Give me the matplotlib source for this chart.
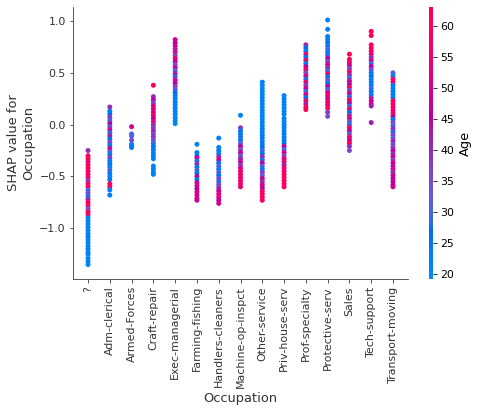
import numpy as np
import matplotlib
matplotlib.use("Agg")
import matplotlib.pyplot as plt
from matplotlib.colors import LinearSegmentedColormap

# (SHAP value, Age), column by column
unknown = [(-0.25, 40), (-0.30, 58), (-0.33, 62), (-0.36, 55), (-0.39, 60), (-0.42, 62),
           (-0.45, 57), (-0.48, 61), (-0.51, 56), (-0.54, 38), (-0.57, 60), (-0.60, 62),
           (-0.63, 30), (-0.66, 35), (-0.69, 28), (-0.72, 40), (-0.75, 60), (-0.78, 62),
           (-0.81, 34), (-0.84, 61), (-0.87, 58), (-0.90, 22), (-0.93, 21), (-0.96, 23),
           (-0.99, 20), (-1.02, 22), (-1.05, 21), (-1.08, 24), (-1.11, 20), (-1.14, 22),
           (-1.17, 21), (-1.20, 23), (-1.23, 20), (-1.25, 22), (-1.29, 21), (-1.32, 22),
           (-1.35, 20)]
adm_clerical = [(0.17, 40), (0.13, 25), (0.10, 27), (0.07, 38), (0.04, 30), (0.01, 45),
                (-0.02, 34), (-0.05, 48), (-0.08, 28), (-0.11, 42), (-0.14, 26), (-0.17, 36),
                (-0.20, 24), (-0.23, 50), (-0.26, 32), (-0.29, 25), (-0.32, 38), (-0.35, 23),
                (-0.38, 26), (-0.41, 22), (-0.44, 30), (-0.47, 24), (-0.50, 22), (-0.53, 25),
                (-0.57, 60), (-0.60, 62), (-0.63, 24), (-0.68, 23)]
armed_forces = [(-0.02, 50), (-0.09, 30), (-0.11, 30), (-0.15, 36), (-0.19, 24),
                (-0.21, 24), (-0.22, 24)]
craft_repair = [(0.38, 62), (0.27, 40), (0.24, 45), (0.21, 35), (0.18, 50), (0.15, 55),
                (0.12, 48), (0.09, 58), (0.06, 45), (0.03, 55), (0.00, 40), (-0.03, 38),
                (-0.06, 42), (-0.09, 36), (-0.12, 40), (-0.15, 34), (-0.18, 30), (-0.21, 26),
                (-0.24, 24), (-0.27, 22), (-0.30, 23), (-0.33, 22), (-0.40, 22), (-0.43, 23),
                (-0.46, 22), (-0.48, 21)]
exec_managerial = [(0.82, 48), (0.79, 45), (0.76, 50), (0.73, 42), (0.70, 52), (0.67, 38),
                   (0.64, 55), (0.61, 45), (0.58, 35), (0.55, 48), (0.52, 30), (0.49, 42),
                   (0.46, 28), (0.43, 52), (0.40, 45), (0.37, 38), (0.34, 32), (0.31, 27),
                   (0.28, 24), (0.25, 22), (0.22, 23), (0.19, 21), (0.16, 22), (0.13, 23),
                   (0.10, 21), (0.07, 22), (0.04, 21), (0.01, 22)]
farming_fishing = [(-0.19, 22), (-0.27, 24), (-0.30, 25), (-0.32, 50), (-0.35, 28),
                   (-0.38, 40), (-0.41, 25), (-0.44, 30), (-0.47, 26), (-0.50, 45),
                   (-0.53, 24), (-0.56, 48), (-0.59, 52), (-0.62, 45), (-0.65, 50),
                   (-0.68, 47), (-0.71, 52), (-0.73, 48)]
handlers_cleaners = [(-0.13, 22), (-0.22, 22), (-0.25, 24), (-0.28, 22), (-0.31, 40),
                     (-0.34, 48), (-0.37, 26), (-0.40, 30), (-0.43, 24), (-0.46, 32),
                     (-0.49, 26), (-0.52, 36), (-0.55, 28), (-0.58, 34), (-0.61, 40),
                     (-0.64, 48), (-0.67, 52), (-0.70, 55), (-0.73, 45), (-0.76, 50)]
machine_op_inspct = [(0.09, 22), (-0.03, 38), (-0.06, 26), (-0.09, 24), (-0.12, 28),
                     (-0.15, 24), (-0.18, 32), (-0.21, 45), (-0.24, 36), (-0.27, 48),
                     (-0.30, 32), (-0.33, 42), (-0.36, 50), (-0.39, 38), (-0.42, 52),
                     (-0.45, 56), (-0.48, 60), (-0.51, 55), (-0.54, 60), (-0.57, 58),
                     (-0.60, 55)]
other_service = [(0.41, 22), (0.38, 21), (0.35, 22), (0.32, 20), (0.29, 21), (0.26, 22),
                 (0.23, 21), (0.20, 23), (0.17, 21), (0.14, 22), (0.11, 20), (0.08, 22),
                 (0.05, 21), (0.02, 23), (-0.01, 22), (-0.04, 24), (-0.07, 21), (-0.10, 23),
                 (-0.13, 25), (-0.16, 22), (-0.19, 24), (-0.22, 26), (-0.25, 30), (-0.28, 26),
                 (-0.31, 40), (-0.34, 28), (-0.37, 45), (-0.40, 32), (-0.43, 24), (-0.46, 38),
                 (-0.49, 34), (-0.52, 48), (-0.55, 40), (-0.58, 52), (-0.61, 45), (-0.64, 58),
                 (-0.67, 60), (-0.70, 62), (-0.73, 58)]
priv_house_serv = [(0.28, 22), (0.25, 21), (0.22, 22), (0.19, 21), (0.16, 22), (0.13, 21),
                   (0.10, 22), (0.06, 23), (0.03, 21), (0.00, 22), (-0.03, 23), (-0.06, 22),
                   (-0.09, 24), (-0.12, 23), (-0.15, 25), (-0.18, 26), (-0.21, 45), (-0.24, 30),
                   (-0.27, 50), (-0.30, 36), (-0.33, 55), (-0.36, 58), (-0.39, 42), (-0.42, 60),
                   (-0.45, 55), (-0.48, 62), (-0.51, 58), (-0.54, 60), (-0.57, 62), (-0.60, 58)]
prof_specialty = [(0.77, 40), (0.74, 26), (0.71, 24), (0.68, 55), (0.65, 26), (0.62, 60),
                  (0.59, 24), (0.56, 45), (0.53, 60), (0.50, 35), (0.47, 50), (0.44, 28),
                  (0.41, 55), (0.38, 38), (0.35, 48), (0.32, 30), (0.29, 52), (0.26, 26),
                  (0.23, 58), (0.20, 42), (0.17, 60), (0.145, 62)]
protective_serv = [(1.01, 22), (0.92, 22), (0.85, 24), (0.82, 22), (0.79, 26), (0.76, 23),
                   (0.73, 30), (0.70, 24), (0.67, 28), (0.64, 45), (0.61, 36), (0.58, 52),
                   (0.55, 40), (0.52, 30), (0.49, 56), (0.46, 26), (0.43, 34), (0.40, 24),
                   (0.37, 45), (0.34, 30), (0.31, 52), (0.28, 58), (0.25, 48), (0.22, 60),
                   (0.19, 55), (0.16, 60), (0.12, 38), (0.08, 35)]
sales = [(0.68, 62), (0.63, 60), (0.60, 58), (0.57, 50), (0.54, 36), (0.51, 55), (0.48, 40),
         (0.45, 30), (0.42, 48), (0.39, 45), (0.36, 58), (0.33, 35), (0.30, 50), (0.27, 28),
         (0.24, 62), (0.21, 45), (0.18, 30), (0.15, 55), (0.12, 26), (0.09, 40), (0.06, 52),
         (0.03, 34), (0.00, 28), (-0.03, 60), (-0.06, 45), (-0.09, 32), (-0.12, 58),
         (-0.15, 48), (-0.18, 62), (-0.21, 40), (-0.25, 36)]
tech_support = [(0.90, 62), (0.86, 62), (0.77, 60), (0.74, 58), (0.71, 62), (0.68, 55),
                (0.65, 40), (0.62, 50), (0.59, 30), (0.56, 45), (0.53, 35), (0.50, 24),
                (0.47, 26), (0.44, 22), (0.41, 24), (0.38, 22), (0.35, 30), (0.32, 24),
                (0.29, 22), (0.26, 40), (0.23, 48), (0.20, 50), (0.18, 42), (0.02, 42)]
transport_moving = [(0.50, 30), (0.47, 22), (0.44, 58), (0.41, 60), (0.38, 22), (0.35, 22),
                    (0.32, 24), (0.29, 22), (0.26, 24), (0.23, 60), (0.20, 58), (0.17, 62),
                    (0.14, 55), (0.11, 60), (0.08, 45), (0.05, 26), (0.02, 35), (-0.01, 30),
                    (-0.04, 40), (-0.07, 28), (-0.10, 36), (-0.13, 32), (-0.16, 42),
                    (-0.19, 34), (-0.22, 38), (-0.25, 45), (-0.28, 40), (-0.31, 48),
                    (-0.34, 38), (-0.37, 50), (-0.40, 44), (-0.43, 52), (-0.46, 40),
                    (-0.49, 48), (-0.52, 45), (-0.55, 50), (-0.58, 46), (-0.60, 48)]

categories = ["?", "Adm-clerical", "Armed-Forces", "Craft-repair", "Exec-managerial",
              "Farming-fishing", "Handlers-cleaners", "Machine-op-inspct", "Other-service",
              "Priv-house-serv", "Prof-specialty", "Protective-serv", "Sales",
              "Tech-support", "Transport-moving"]
columns = [unknown, adm_clerical, armed_forces, craft_repair, exec_managerial,
           farming_fishing, handlers_cleaners, machine_op_inspct, other_service,
           priv_house_serv, prof_specialty, protective_serv, sales, tech_support,
           transport_moving]


# shap's red_blue map: straight line through LCh space, blue -> red
def lch_to_rgb(l, c, h):
    a, b = c * np.cos(h), c * np.sin(h)
    fy = (l + 16) / 116
    f = np.array([fy + a / 500, fy, fy - b / 200])
    d = 6 / 29
    t = np.where(f > d, f ** 3, 3 * d * d * (f - 4 / 29))
    xyz = t * np.array([0.95047, 1.0, 1.08883])
    m = np.array([[3.2404542, -1.5371385, -0.4985314],
                  [-0.9692660, 1.8760108, 0.0415560],
                  [0.0556434, -0.2040259, 1.0572252]])
    rgb = m @ xyz
    rgb = np.where(rgb > 0.0031308, 1.055 * np.clip(rgb, 0, None) ** (1 / 2.4) - 0.055, 12.92 * rgb)
    return np.clip(rgb, 0, 1)


n = 100
ls = list(np.linspace(54, 40, n // 2)) + list(np.linspace(40, 54, n // 2))
cs = np.linspace(70, 90, n)
hs = np.linspace(4.6588, 0.35470565 + 2 * np.pi, n)
red_blue = LinearSegmentedColormap.from_list(
    "red_blue", [lch_to_rgb(l, c, h) for l, c, h in zip(ls, cs, hs)])

axis_color = "#333333"
fig = plt.figure(figsize=(478 / 72, 415 / 72), dpi=72)
ax = fig.add_axes([0.1527, 0.3277, 0.7009, 0.6554])
cax = fig.add_axes([0.8975, 0.3277, 0.0094, 0.6554])

for name, col in zip(categories, columns):
    vals = [v for v, _ in col]
    ages = [a for _, a in col]
    sc = ax.scatter([name] * len(vals), vals, c=ages, cmap=red_blue, vmin=19.2, vmax=63.1,
                    s=25, linewidth=0)

ax.set_xlim(-0.69, 14.69)
ax.set_ylim(-1.49, 1.135)
ax.set_yticks([-1.0, -0.5, 0.0, 0.5, 1.0])
ax.spines["top"].set_visible(False)
ax.spines["right"].set_visible(False)
ax.spines["left"].set_color(axis_color)
ax.spines["bottom"].set_color(axis_color)
ax.tick_params(color=axis_color, labelcolor=axis_color, labelsize=11)
plt.setp(ax.get_xticklabels(), rotation=90)
ax.set_xlabel("Occupation", color=axis_color, fontsize=13)
ax.set_ylabel("SHAP value for\nOccupation", color=axis_color, fontsize=13)

cb = fig.colorbar(sc, cax=cax, ticks=[20, 25, 30, 35, 40, 45, 50, 55, 60])
cb.outline.set_visible(False)
cb.ax.tick_params(labelsize=11)
cb.set_label("Age", size=13)

fig.savefig("out.png", dpi=72)
